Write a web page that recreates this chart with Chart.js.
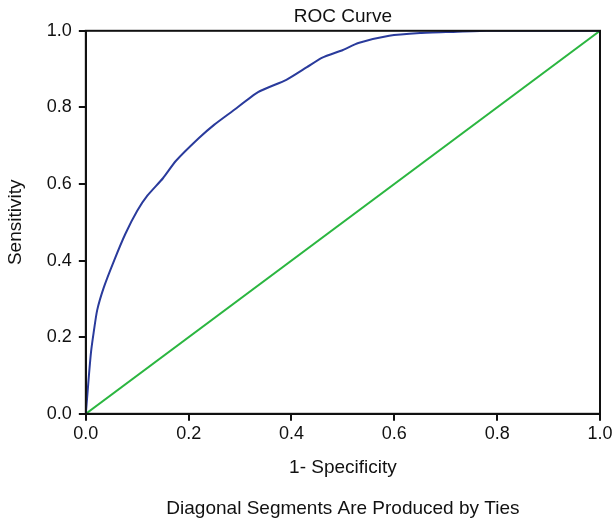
<!DOCTYPE html>
<html>
<head>
<meta charset="utf-8">
<script src="https://cdn.jsdelivr.net/npm/chart.js@4.4.1/dist/chart.umd.min.js"></script>
<style>
    html, body { margin: 0; padding: 0; background: #fff; overflow: hidden; }
    #wrap { width: 613px; height: 522px; }
</style>
</head>
<body>
<div id="wrap"><canvas id="roc-chart"></canvas></div>
<script>
// --- Data ---
const specComplement = [0, 0.003, 0.006, 0.010, 0.015, 0.022, 0.035, 0.055, 0.077, 0.100, 0.120, 0.150, 0.175, 0.220, 0.250, 0.285, 0.335, 0.390, 0.430, 0.460, 0.500, 0.530, 0.590, 0.650, 0.710, 0.780, 1.0];
const sensitivity = [0, 0.05, 0.10, 0.16, 0.21, 0.27, 0.33, 0.40, 0.47, 0.53, 0.57, 0.615, 0.66, 0.72, 0.755, 0.79, 0.84, 0.872, 0.905, 0.93, 0.95, 0.968, 0.987, 0.994, 0.997, 1.0, 1.0];
const refX = [0, 1];
const refY = [0, 1];
const tickValues = [0, 0.2, 0.4, 0.6, 0.8, 1.0];

const fontFamily = '"Liberation Sans", Arial, sans-serif';

// --- Frame around plot area ---
const frame = {
    id: 'frame',
    afterDraw(chart) {
        const { ctx, chartArea } = chart;
        ctx.save();
        ctx.strokeStyle = '#111';
        ctx.lineWidth = 2;
        ctx.strokeRect(chartArea.left, chartArea.top, chartArea.right - chartArea.left, chartArea.bottom - chartArea.top);
        ctx.restore();
    }
};

const ctx = document.getElementById('roc-chart').getContext('2d');
new Chart(ctx, {
    type: 'scatter',
    data: {
        datasets: [
            {
                label: 'ROC',
                data: specComplement.map((x, i) => ({ x: x, y: sensitivity[i] })),
                showLine: true,
                borderColor: '#2a3b9c',
                borderWidth: 2,
                pointRadius: 0,
                tension: 0.2
            },
            {
                label: 'Reference',
                data: refX.map((x, i) => ({ x: x, y: refY[i] })),
                showLine: true,
                borderColor: '#2bb640',
                borderWidth: 2,
                pointRadius: 0
            }
        ]
    },
    options: {
        responsive: true,
        maintainAspectRatio: false,
        animation: false,
        layout: { padding: { left: 4, right: 0, top: 0, bottom: 0 } },
        plugins: {
            legend: { display: false },
            tooltip: { enabled: false },
            title: {
                display: true,
                text: 'ROC Curve',
                fullSize: false,
                color: '#111',
                font: { family: fontFamily, size: 19, weight: 'normal' },
                padding: { top: 5, bottom: 3 }
            },
            subtitle: {
                display: true,
                text: 'Diagonal Segments Are Produced by Ties',
                position: 'bottom',
                fullSize: false,
                color: '#111',
                font: { family: fontFamily, size: 19, weight: 'normal' },
                padding: { top: 18, bottom: 2 }
            }
        },
        scales: {
            x: {
                type: 'linear',
                min: 0,
                max: 1,
                afterBuildTicks(scale) {
                    scale.ticks = tickValues.map(v => ({ value: v }));
                },
                afterFit(scale) {
                    scale.paddingRight = 13;
                },
                ticks: {
                    color: '#111',
                    font: { family: fontFamily, size: 18 },
                    padding: 2,
                    maxRotation: 0,
                    callback: v => v.toFixed(1)
                },
                grid: { drawOnChartArea: false, drawTicks: true, tickLength: 7, color: '#111', lineWidth: 2 },
                border: { display: true, color: '#111', width: 2 },
                title: {
                    display: true,
                    text: '1- Specificity',
                    color: '#111',
                    font: { family: fontFamily, size: 19 },
                    padding: { top: 10, bottom: 0 }
                }
            },
            y: {
                type: 'linear',
                min: 0,
                max: 1,
                afterBuildTicks(scale) {
                    scale.ticks = tickValues.map(v => ({ value: v }));
                },
                ticks: {
                    color: '#111',
                    font: { family: fontFamily, size: 18 },
                    padding: 7,
                    callback: v => v.toFixed(1)
                },
                grid: { drawOnChartArea: false, drawTicks: true, tickLength: 7, color: '#111', lineWidth: 2 },
                border: { display: true, color: '#111', width: 2 },
                title: {
                    display: true,
                    text: 'Sensitivity',
                    color: '#111',
                    font: { family: fontFamily, size: 19 },
                    padding: { top: 0, bottom: 13 }
                }
            }
        }
    },
    plugins: [frame]
});
</script>
</body>
</html>
